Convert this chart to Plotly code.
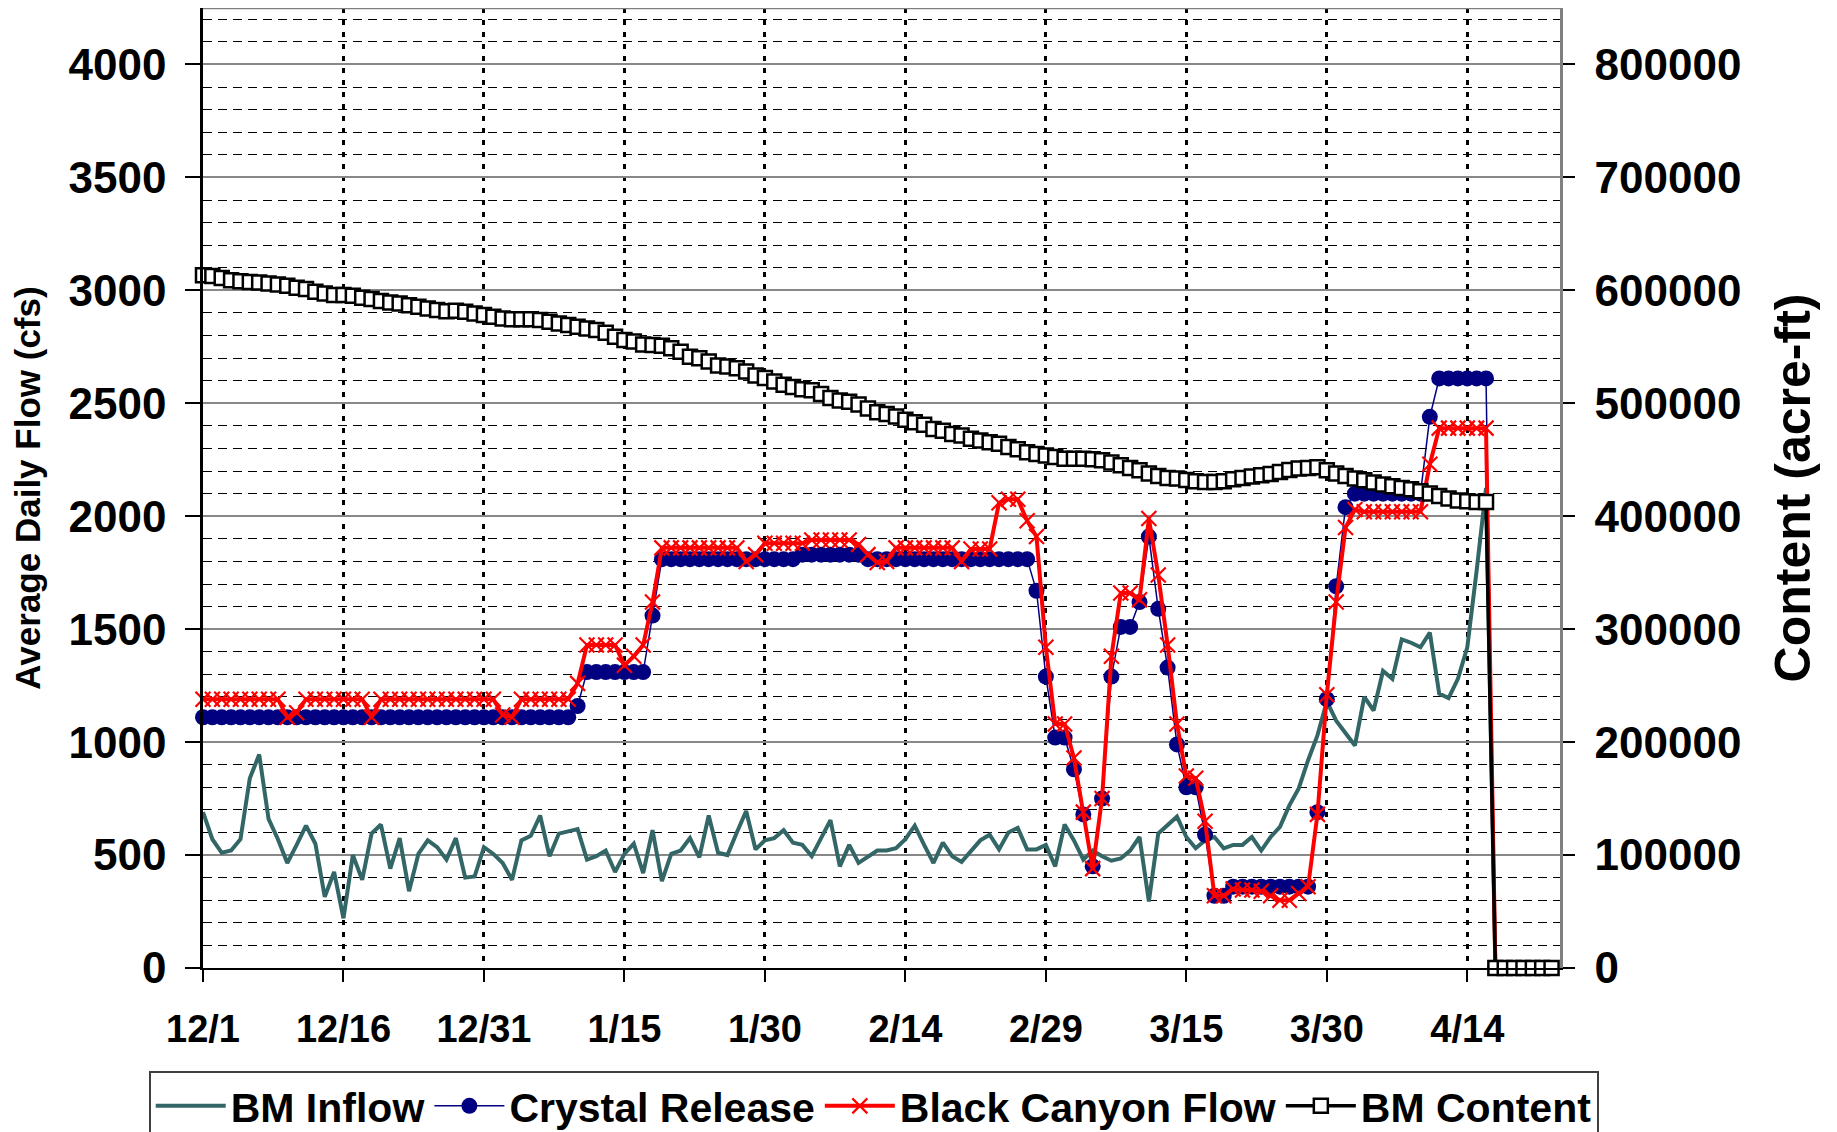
import pandas as pd
import plotly.graph_objects as go

# daily values, 12/1/2011 onward
FLOW_DATES = pd.date_range("2011-12-01", periods=139, freq="D")
CONTENT_DATES = pd.date_range("2011-12-01", periods=145, freq="D")

BM_INFLOW = [
    690, 570, 510, 520, 570, 840, 945, 660, 570, 465,
    545, 630, 550, 315, 425, 220, 500, 390, 595, 635,
    440, 575, 340, 505, 565, 535, 480, 575, 400, 405,
    535, 505, 465, 390, 565, 585, 675, 495, 595, 605,
    615, 480, 495, 520, 425, 505, 550, 420, 610, 385,
    505, 520, 575, 490, 675, 510, 500, 600, 695, 525,
    565, 575, 610, 555, 545, 495, 580, 655, 450, 545,
    465, 495, 520, 520, 530, 570, 630, 545, 465, 555,
    495, 470, 520, 565, 590, 525, 600, 620, 525, 525,
    545, 450, 635, 565, 480, 520, 495, 475, 485, 520,
    580, 295, 595, 635, 670, 580, 530, 565, 580, 530,
    545, 545, 580, 520, 580, 625, 720, 795, 920, 1030,
    1180, 1095, 1040, 985, 1200, 1140, 1315, 1280, 1455, 1440,
    1420, 1485, 1215, 1195, 1280, 1420, 1760, 2125, 0,
]

CRYSTAL_RELEASE = [
    1110, 1110, 1110, 1110, 1110, 1110, 1110, 1110, 1110, 1110,
    1110, 1110, 1110, 1110, 1110, 1110, 1110, 1110, 1110, 1110,
    1110, 1110, 1110, 1110, 1110, 1110, 1110, 1110, 1110, 1110,
    1110, 1110, 1110, 1110, 1110, 1110, 1110, 1110, 1110, 1110,
    1160, 1310, 1310, 1310, 1310, 1310, 1310, 1310, 1560, 1810,
    1810, 1810, 1810, 1810, 1810, 1810, 1810, 1810, 1810, 1810,
    1810, 1810, 1810, 1810, 1830, 1830, 1830, 1830, 1830, 1830,
    1830, 1810, 1810, 1810, 1810, 1810, 1810, 1810, 1810, 1810,
    1810, 1810, 1810, 1810, 1810, 1810, 1810, 1810, 1810, 1670,
    1290, 1020, 1020, 880, 680, 450, 750, 1290, 1510, 1510,
    1620, 1910, 1590, 1330, 990, 800, 800, 590, 320, 320,
    360, 360, 360, 360, 360, 360, 360, 360, 360, 690,
    1190, 1690, 2040, 2100, 2100, 2100, 2100, 2100, 2100, 2100,
    2100, 2440, 2610, 2610, 2610, 2610, 2610, 2610, 0,
]

BLACK_CANYON_FLOW = [
    1190, 1190, 1190, 1190, 1190, 1190, 1190, 1190, 1190, 1110,
    1130, 1190, 1190, 1190, 1190, 1190, 1190, 1190, 1110, 1190,
    1190, 1190, 1190, 1190, 1190, 1190, 1190, 1190, 1190, 1190,
    1190, 1190, 1120, 1110, 1190, 1190, 1190, 1190, 1190, 1190,
    1260, 1430, 1430, 1430, 1430, 1340, 1380, 1430, 1620, 1860,
    1860, 1860, 1860, 1860, 1860, 1860, 1860, 1860, 1800, 1830,
    1880, 1880, 1880, 1880, 1880, 1895, 1895, 1895, 1895, 1895,
    1875, 1830, 1795, 1800, 1860, 1860, 1860, 1860, 1860, 1860,
    1860, 1800, 1855, 1855, 1855, 2060, 2075, 2075, 1980, 1910,
    1420, 1080, 1080, 930, 690, 440, 750, 1380, 1660, 1660,
    1630, 1990, 1740, 1430, 1080, 850, 840, 650, 320, 320,
    350, 345, 345, 340, 320, 300, 300, 330, 360, 680,
    1210, 1620, 1950, 2030, 2020, 2020, 2020, 2020, 2020, 2020,
    2020, 2230, 2390, 2390, 2390, 2390, 2390, 2390, 0,
]

BM_CONTENT = [
    613400, 612800, 611000, 609000, 608100, 607500, 606900, 606000, 605200, 604000,
    602200, 601100, 598700, 597200, 595800, 595800, 595200, 593400, 592300, 590500,
    589300, 588400, 586900, 585500, 583900, 582500, 581600, 582000, 581000, 579500,
    578100, 576600, 575100, 574500, 574500, 574500, 573700, 572200, 570700, 569300,
    567800, 566300, 564900, 562500, 559000, 556000, 554800, 552000, 551600, 551000,
    548700, 545700, 541300, 539900, 537000, 533500, 532600, 531100, 528100, 524500,
    522300, 519300, 516500, 514500, 512500, 511500, 508300, 504600, 502400, 501300,
    499000, 495500, 492000, 490500, 488300, 485400, 483200, 481000, 477300, 475800,
    472900, 471400, 468500, 467000, 465600, 464100, 461200, 459200, 456700, 455200,
    453800, 452400, 451000, 451000, 451000, 450400, 449500, 447500, 445100, 442700,
    440700, 437800, 435700, 433900, 433400, 432100, 431000, 430400, 430400, 431000,
    432700, 433900, 435100, 436300, 437400, 439200, 441000, 442200, 442700, 443300,
    440700, 437800, 435700, 433400, 431900, 429800, 428100, 426600, 425100, 423900,
    422200, 420100, 418000, 415700, 413900, 413300, 412700, 412700, 0, 0,
    0, 0, 0, 0, 0,
]

FONT = "Liberation Sans, Arial, sans-serif"

fig = go.Figure()

fig.add_trace(go.Scatter(
    x=FLOW_DATES, y=BM_INFLOW, name="BM Inflow", mode="lines",
    line=dict(color="#336666", width=4), cliponaxis=False,
))
fig.add_trace(go.Scatter(
    x=FLOW_DATES, y=CRYSTAL_RELEASE, name="Crystal Release", mode="lines+markers",
    line=dict(color="#000080", width=1.5),
    marker=dict(symbol="circle", size=16, color="#000080"), cliponaxis=False,
))
fig.add_trace(go.Scatter(
    x=FLOW_DATES, y=BLACK_CANYON_FLOW, name="Black Canyon Flow", mode="lines+markers",
    line=dict(color="#FF0000", width=4),
    marker=dict(symbol="x-thin", size=15, color="#FF0000",
                line=dict(color="#FF0000", width=2.2)),
    cliponaxis=False,
))
fig.add_trace(go.Scatter(
    x=CONTENT_DATES, y=BM_CONTENT, name="BM Content", mode="lines+markers",
    yaxis="y2", line=dict(color="#000000", width=3.5),
    marker=dict(symbol="square", size=14, color="#FFFFFF",
                line=dict(color="#000000", width=2.5)),
    cliponaxis=False,
))

tick_font = dict(family=FONT, size=44, color="black", weight="bold")

# the page body adds an 8px offset, so margins are shifted to compensate
fig.update_layout(
    width=1837, height=1132,
    margin=dict(l=195, r=285, t=0, b=172, autoexpand=False),
    paper_bgcolor="white", plot_bgcolor="white",
    font=dict(family=FONT, color="black"),
    showlegend=True,
    legend=dict(
        orientation="h", x=-0.040, xanchor="left", y=-0.107, yanchor="top",
        font=dict(family=FONT, size=41, weight="bold"),
        bordercolor="#404040", borderwidth=2, bgcolor="white",
        itemwidth=70,
    ),
    xaxis=dict(
        type="date",
        range=["2011-12-01", "2012-04-23 21:36"],
        tick0="2011-12-01", dtick=15 * 86400000,
        tickformat="%-m/%-d",
        tickfont=dict(family=FONT, size=38, color="black", weight="bold"),
        ticks="outside", ticklen=12, tickwidth=2, tickcolor="black",
        ticklabelstandoff=14,
        showline=True, linecolor="black", linewidth=2,
        showgrid=True, gridcolor="black", gridwidth=2.5, griddash="5px,7px",
        zeroline=False,
    ),
    yaxis=dict(
        range=[0, 4250], dtick=500, tickformat="d",
        tickfont=tick_font,
        ticks="outside", ticklen=15, tickwidth=2, tickcolor="black",
        ticklabelstandoff=10,
        showline=True, linecolor="black", linewidth=2.5,
        showgrid=True, gridcolor="#888888", gridwidth=2,
        minor=dict(dtick=100, showgrid=True, gridcolor="black", gridwidth=1,
                   griddash="9px,6px"),
        zeroline=False,
        title=dict(text="Average Daily Flow (cfs)", standoff=18,
                   font=dict(family=FONT, size=35, weight="bold")),
    ),
    yaxis2=dict(
        overlaying="y", side="right",
        range=[0, 850000], dtick=100000, tickformat="d",
        tickfont=tick_font,
        ticks="outside", ticklen=12, tickwidth=2, tickcolor="black",
        ticklabelstandoff=11,
        showline=True, linecolor="#808080", linewidth=2.5,
        showgrid=False, zeroline=False,
        title=dict(text="Content (acre-ft)", standoff=35,
                   font=dict(family=FONT, size=50, weight="bold")),
    ),
    shapes=[dict(type="line", xref="paper", yref="paper", x0=0, x1=1, y0=1, y1=1,
                 line=dict(color="#808080", width=2.5))],
)

fig.write_html("out.html")
